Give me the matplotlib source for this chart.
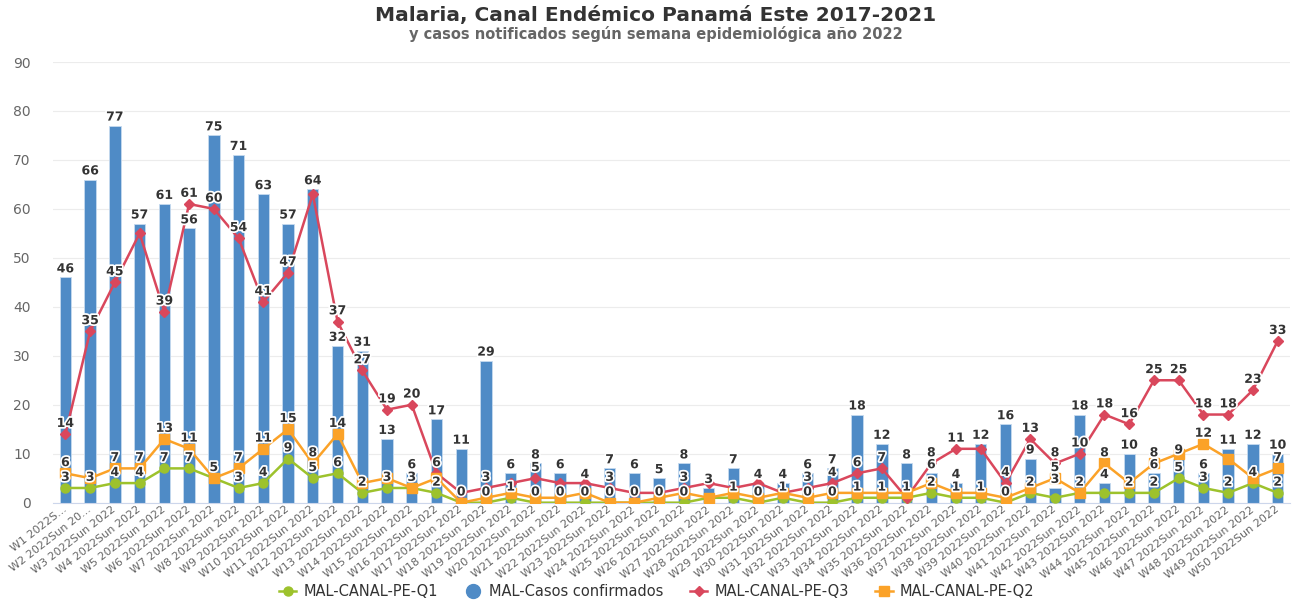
import matplotlib
matplotlib.use("Agg")
import matplotlib.pyplot as plt
import matplotlib.patheffects as pe
from matplotlib.lines import Line2D

plt.rcParams['font.family'] = ['DejaVu Sans']

# data: weeks W1..W50 of 2022
weeks = list(range(1, 51))
week_labels = [f"W{w} 2022Sun 2022" for w in weeks]
week_labels[0] = "W1 2022S..."
week_labels[1] = "W2 2022Sun 20..."

casos = [46, 66, 77, 57, 61, 56, 75, 71, 63, 57, 64, 32, 31, 13, 6, 17, 11, 29, 6, 8,
         6, 4, 7, 6, 5, 8, 3, 7, 4, 4, 6, 7, 18, 12, 8, 6, 4, 12, 16, 9,
         3, 18, 4, 10, 6, 9, 6, 11, 12, 10]
q1 = [3, 3, 4, 4, 7, 7, 5, 3, 4, 9, 5, 6, 2, 3, 3, 2, 0, 0, 1, 0,
      0, 0, 0, 0, 0, 0, 1, 1, 0, 1, 0, 0, 1, 1, 1, 2, 1, 1, 0, 2,
      1, 2, 2, 2, 2, 5, 3, 2, 4, 2]
q2 = [6, 5, 7, 7, 13, 11, 5, 7, 11, 15, 8, 14, 4, 5, 3, 5, 0, 1, 2, 1,
      1, 2, 0, 0, 1, 2, 1, 2, 1, 2, 1, 2, 2, 2, 2, 4, 2, 2, 1, 3,
      5, 2, 8, 4, 8, 10, 12, 9, 5, 7]
q3 = [14, 35, 45, 55, 39, 61, 60, 54, 41, 47, 63, 37, 27, 19, 20, 6, 2, 3, 4, 5,
      4, 4, 3, 2, 2, 3, 4, 3, 4, 2, 3, 4, 6, 7, 1, 8, 11, 11, 4, 13,
      8, 10, 18, 16, 25, 25, 18, 18, 23, 33]

c_bar = '#4f8bc6'
c_q1 = '#9dc22c'
c_q2 = '#fba228'
c_q3 = '#d9475c'

fig = plt.figure(figsize=(12.93, 6.02), dpi=100)
ax = fig.add_axes([0.041, 0.165, 0.9567, 0.732])

x = list(range(len(weeks)))
ax.bar(x, casos, width=0.46, color=c_bar, edgecolor='#c6daef', linewidth=0.6, zorder=2)
ax.plot(x, q1, color=c_q1, lw=1.8, marker='o', ms=6.5, zorder=3)
ax.plot(x, q3, color=c_q3, lw=1.8, marker='D', ms=5, zorder=4)
ax.plot(x, q2, color=c_q2, lw=1.8, marker='s', ms=6.5, zorder=5)

ax.set_xlim(-0.5, len(weeks) - 0.5)
ax.set_ylim(0, 90)
ax.set_yticks(range(0, 91, 10))
ax.grid(axis='y', color='#ececec', lw=0.8, zorder=0)
ax.set_axisbelow(True)
for s in ['top', 'right', 'left']:
    ax.spines[s].set_visible(False)
ax.spines['bottom'].set_color('#ccd6eb')
ax.tick_params(axis='y', length=0, pad=16, labelsize=10, labelcolor='#666666')
ax.tick_params(axis='x', length=0, pad=4)
ax.set_xticks(x)
ax.set_xticklabels(week_labels, rotation=38, ha='right', va='center',
                   rotation_mode='anchor', fontsize=8, color='#666666')

# data labels, hidden when they collide (bars first, then Q1, Q3, Q2)
halo = [pe.withStroke(linewidth=2.5, foreground='white')]
texts = []
for series, dy in [(casos, 1.5), (q1, 3), (q3, 3), (q2, 3)]:
    for xi, v in zip(x, series):
        t = ax.annotate(str(v), (xi, v), xytext=(0, dy), textcoords='offset points',
                        ha='center', va='bottom', fontsize=9, weight='bold',
                        color='#333333', zorder=6, path_effects=halo)
        texts.append(t)

fig.canvas.draw()
renderer = fig.canvas.get_renderer()
kept = []
for t in texts:
    bb = t.get_window_extent(renderer).expanded(0.95, 0.77)
    if any(bb.overlaps(k) for k in kept):
        t.set_visible(False)
    else:
        kept.append(bb)

fig.text(0.507, 0.975, "Malaria, Canal Endémico Panamá Este 2017-2021",
         ha='center', va='center', fontsize=14.5, weight='bold', color='#333333')
fig.text(0.507, 0.943, "y casos notificados según semana epidemiológica año 2022",
         ha='center', va='center', fontsize=10.5, weight='bold', color='#666666')

handles = [
    Line2D([], [], color=c_q1, lw=1.8, marker='o', ms=6.5),
    Line2D([], [], color=c_bar, lw=0, marker='o', ms=10),
    Line2D([], [], color=c_q3, lw=1.8, marker='D', ms=5),
    Line2D([], [], color=c_q2, lw=1.8, marker='s', ms=6.5),
]
names = ['MAL-CANAL-PE-Q1', 'MAL-Casos confirmados', 'MAL-CANAL-PE-Q3', 'MAL-CANAL-PE-Q2']
fig.legend(handles, names, loc='center', bbox_to_anchor=(0.508, 0.017), ncol=4,
           frameon=False, fontsize=10.5, handlelength=1.2, handletextpad=0.5,
           columnspacing=1.8, labelcolor='#333333')

fig.savefig('out.png', dpi=100)
